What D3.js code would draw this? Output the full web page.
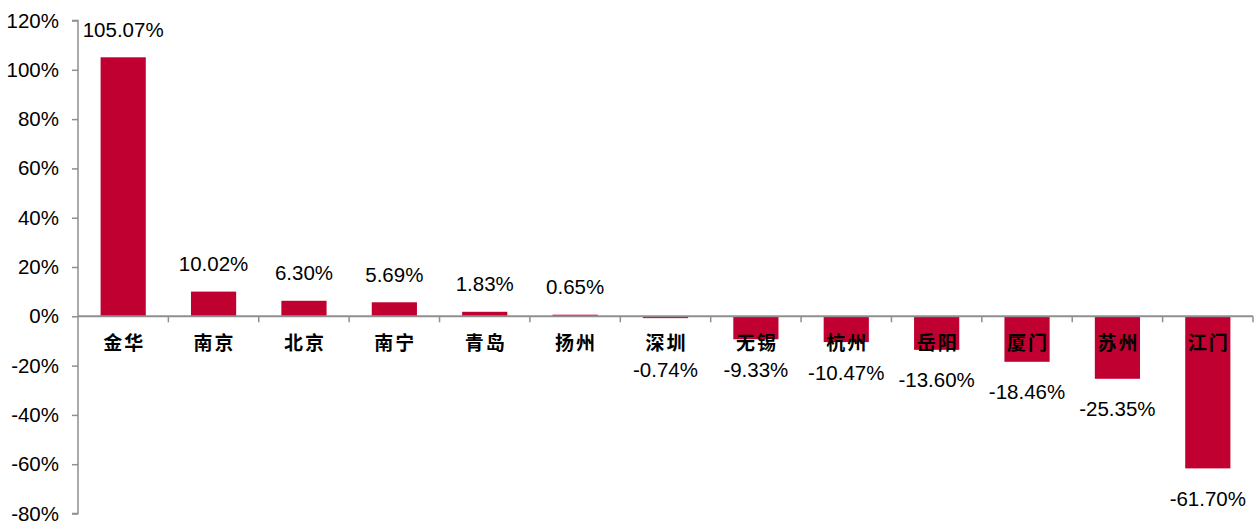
<!DOCTYPE html>
<html>
<head>
<meta charset="utf-8">
<script src="https://cdn.jsdelivr.net/npm/d3@7"></script>
<style>
  html, body { margin: 0; padding: 0; background: #fff; }
  svg { display: block; }
</style>
</head>
<body>
<svg id="chart" width="1256" height="523"></svg>
<script>
// City names and year-on-year change (%)
const cities = ["金华", "南京", "北京", "南宁", "青岛", "扬州", "深圳", "无锡", "杭州", "岳阳", "厦门", "苏州", "江门"];
const changes = [105.07, 10.02, 6.30, 5.69, 1.83, 0.65, -0.74, -9.33, -10.47, -13.60, -18.46, -25.35, -61.70];
const yTicks = [-80, -60, -40, -20, 0, 20, 40, 60, 80, 100, 120];

const plotLeft = 78, plotRight = 1253, plotTop = 20.5, plotBottom = 513.5;
const barColor = "#c00030";
const axisColor = "#8f8f8f";
const numFont = "'Liberation Sans', Arial, sans-serif";
const cjkFont = "'Noto Sans CJK SC', sans-serif";

const data = cities.map((c, i) => ({ city: c, value: changes[i] }));

const svg = d3.select("#chart");

const x = d3.scaleBand().domain(cities).range([plotLeft, plotRight]).paddingInner(0.5).paddingOuter(0.25);
const y = d3.scaleLinear().domain([-80, 120]).range([plotBottom, plotTop]);

// Bars
svg.append("g").selectAll("rect").data(data).join("rect")
  .attr("x", d => x(d.city))
  .attr("width", x.bandwidth())
  .attr("y", d => y(Math.max(0, d.value)))
  .attr("height", d => Math.abs(y(d.value) - y(0)))
  .attr("fill", barColor);

// Y axis
const yAxis = d3.axisLeft(y).tickValues(yTicks).tickSize(6).tickPadding(13)
  .tickFormat(d => d + "%");
const gy = svg.append("g").attr("transform", `translate(${plotLeft},0)`).call(yAxis);
gy.select(".domain").attr("stroke", axisColor).attr("stroke-width", 1.5)
  .attr("d", `M-6,${y(120)}H0V${y(-80)}H-6`);
gy.selectAll(".tick line").attr("stroke", axisColor).attr("stroke-width", 1.5);
gy.selectAll(".tick text").attr("fill", "#000")
  .style("font-family", numFont).style("font-size", "20.5px");

// Zero line with category separators
const bounds = cities.map(c => x(c) - x.step() * x.paddingInner() / 2).concat([plotRight]);
const gx = svg.append("g");
gx.append("line")
  .attr("x1", plotLeft).attr("x2", plotRight).attr("y1", y(0)).attr("y2", y(0))
  .attr("stroke", axisColor).attr("stroke-width", 2);
gx.selectAll("line.sep").data(bounds.slice(1)).join("line").attr("class", "sep")
  .attr("x1", d => d).attr("x2", d => d)
  .attr("y1", y(0)).attr("y2", y(0) + 6)
  .attr("stroke", axisColor).attr("stroke-width", 1.5);

// Category labels just below the zero line
svg.append("g").selectAll("text").data(data).join("text")
  .attr("x", d => x(d.city) + x.bandwidth() / 2 + 1)
  .attr("y", y(0) + 25)
  .attr("text-anchor", "middle")
  .attr("dominant-baseline", "central")
  .style("font-family", cjkFont)
  .style("font-weight", "bold")
  .style("font-size", "19px")
  .style("letter-spacing", "2px")
  .attr("fill", "#000")
  .text(d => d.city);

// Value labels: above positive bars, below the category row for negative bars
svg.append("g").selectAll("text").data(data).join("text")
  .attr("x", d => x(d.city) + x.bandwidth() / 2)
  .attr("y", d => d.value >= 0 ? Math.max(y(d.value) - 28, plotTop + 2) : Math.max(y(d.value) + 30, y(0) + 53))
  .attr("text-anchor", "middle")
  .attr("dominant-baseline", "central")
  .style("font-family", numFont)
  .style("font-size", "20.5px")
  .attr("fill", "#000")
  .text(d => d.value.toFixed(2) + "%");
</script>
</body>
</html>
